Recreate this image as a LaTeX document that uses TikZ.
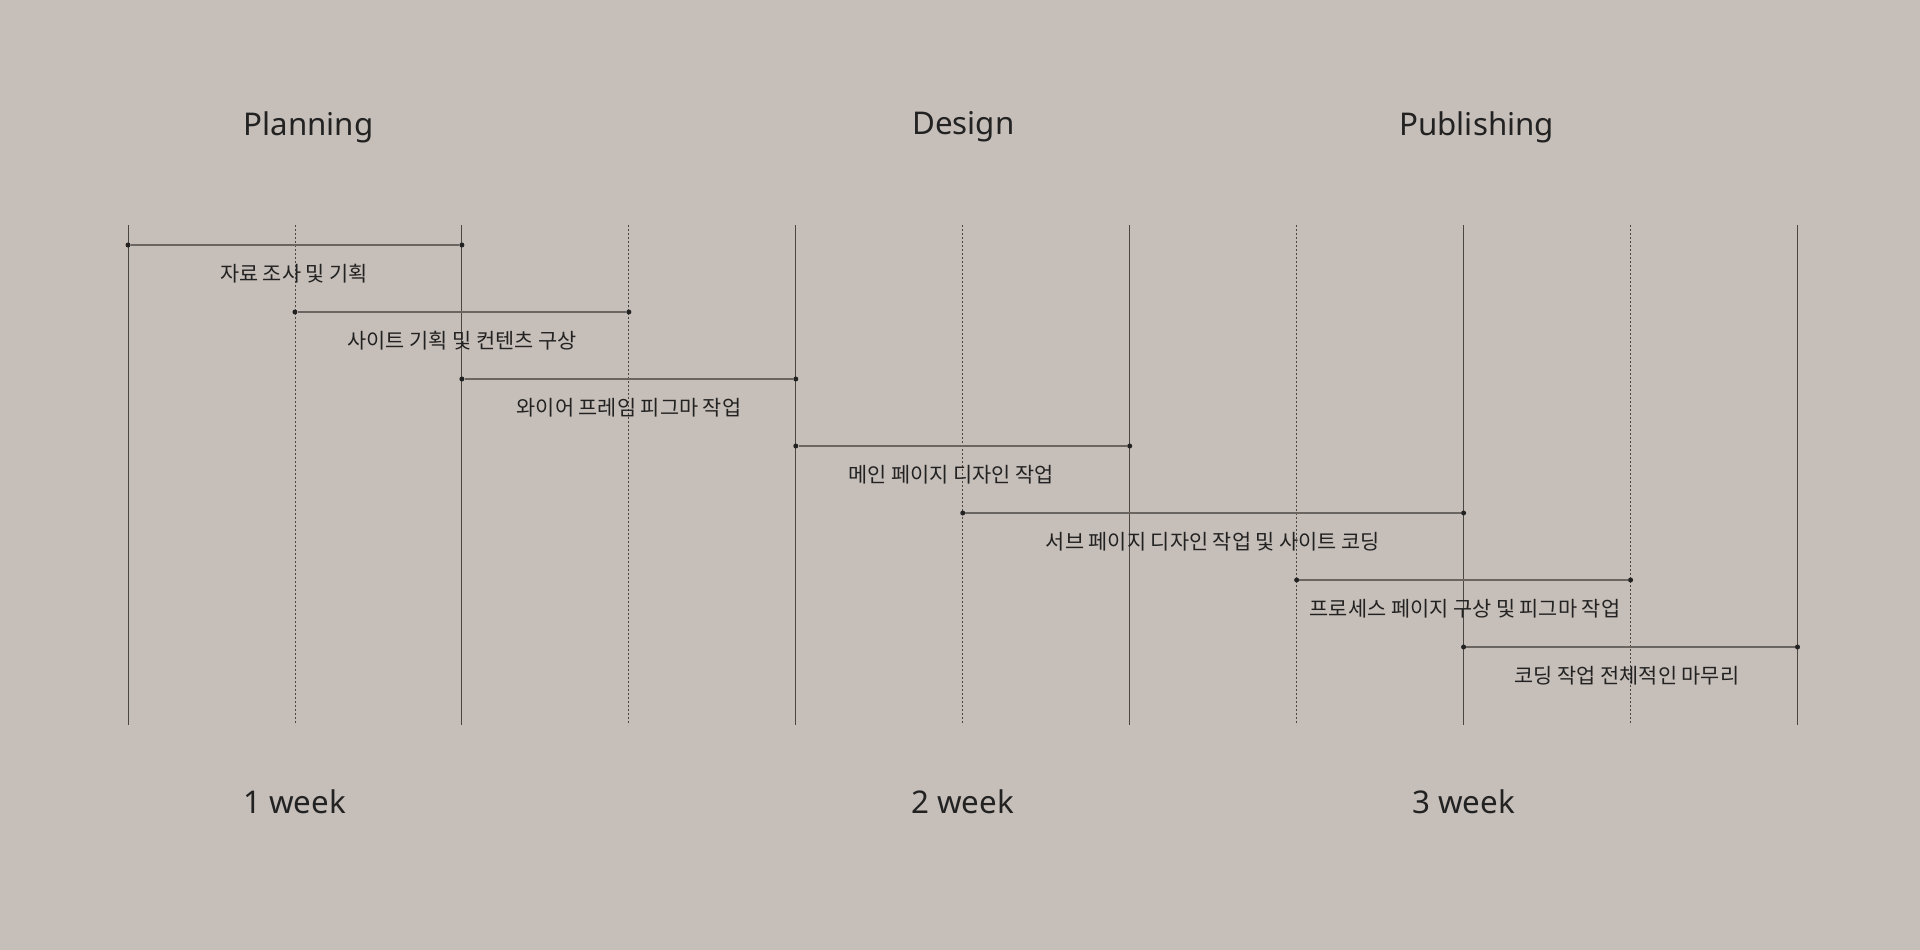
\documentclass[tikz,border=0pt]{standalone}
\usepackage{fontspec}
\setmainfont{Noto Sans}
\newfontfamily\krfont{Noto Sans CJK KR}
\definecolor{bg}{HTML}{C6BEB8}
\definecolor{ink}{HTML}{222222}
\definecolor{vline}{HTML}{4A4642}
\definecolor{bar}{HTML}{6A6560}
\begin{document}
\begin{tikzpicture}[x=1pt,y=-1pt,
  solidline/.style={draw=vline,line width=0.9pt},
  dotline/.style={draw=vline,line width=0.9pt,dash pattern=on 2pt off 2pt},
  barline/.style={draw=bar,line width=2pt},
  enddot/.style={circle,fill=ink,inner sep=0pt,minimum size=5pt},
  title/.style={text=ink,font=\fontsize{31.3}{37}\selectfont,inner sep=0pt,anchor=center},
  task/.style={text=ink,font=\krfont\fontsize{20.8}{25}\selectfont,inner sep=0pt,anchor=center}]
\fill[bg] (0,0) rectangle (1920,950);
\useasboundingbox (0,0) rectangle (1920,950);
% vertical grid
\foreach \i in {0,...,10} {
  \coordinate (t\i) at ({128+166.95*\i},225);
  \coordinate (b\i) at ({128+166.95*\i},725);
}
\foreach \i in {0,2,4,6,8,10} \draw[solidline] (t\i) -- (b\i);
\foreach \i in {1,3,5,7,9} \draw[dotline] (t\i) -- (b\i);
% titles
\node[title] (planning) at (308.5,127) {Planning};
\node[title] (design) at (963.5,127) {Design};
\node[title] (publishing) at (1476.7,127) {Publishing};
\node[title] (w1) at (294.5,802) {1 week};
\node[title] (w2) at (962.5,802) {2 week};
\node[title] (w3) at (1463.5,802) {3 week};
% bars
\newcommand{\taskbar}[5]{%
  \node[enddot] (s#5) at ({128+166.95*#1},#3) {};
  \node[enddot] (e#5) at ({128+166.95*#2},#3) {};
  \draw[barline] (s#5) -- (e#5);
}
\taskbar{0}{2}{245}{}{1}
\taskbar{1}{3}{312}{}{2}
\taskbar{2}{4}{379}{}{3}
\taskbar{4}{6}{446}{}{4}
\taskbar{5}{8}{513}{}{5}
\taskbar{7}{9}{580}{}{6}
\taskbar{8}{10}{647}{}{7}
\node[task] (l1) at (294,274) {자료 조사 및 기획};
\node[task] (l2) at (462,341) {사이트 기획 및 컨텐츠 구상};
\node[task] (l3) at (629,408) {와이어 프레임 피그마 작업};
\node[task] (l4) at (951,475) {메인 페이지 디자인 작업};
\node[task] (l5) at (1213,542) {서브 페이지 디자인 작업 및 사이트 코딩};
\node[task] (l6) at (1465,609) {프로세스 페이지 구상 및 피그마 작업};
\node[task] (l7) at (1627,676) {코딩 작업 전체적인 마무리};
\end{tikzpicture}
\end{document}
